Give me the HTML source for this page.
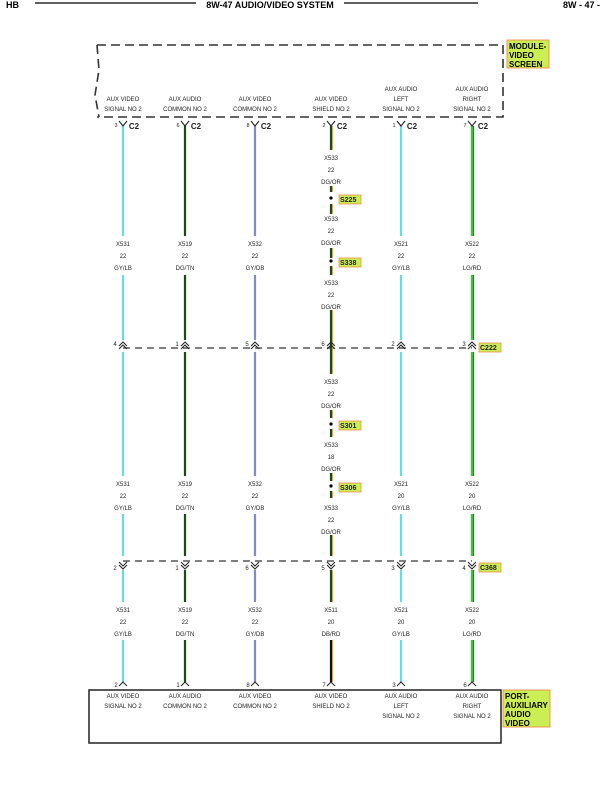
<!DOCTYPE html>
<html><head><meta charset="utf-8"><style>
html,body{margin:0;padding:0;background:#fff;width:605px;height:792px;overflow:hidden}
svg{display:block}
text{font-family:"Liberation Sans",sans-serif}
</style></head><body>
<svg id="s" width="605" height="792" viewBox="0 0 605 792" xmlns="http://www.w3.org/2000/svg">
<text x="6" y="8" font-size="9" font-weight="bold">HB</text>
<line x1="35" y1="3" x2="196" y2="3" stroke="#000" stroke-width="1.3"/>
<text x="270" y="8" font-size="9" font-weight="bold" text-anchor="middle">8W-47 AUDIO/VIDEO SYSTEM</text>
<line x1="344" y1="3" x2="478" y2="3" stroke="#000" stroke-width="1.3"/>
<text x="563" y="8" font-size="9" font-weight="bold">8W - 47 -</text>
<path d="M97,45 L503,45 L503,117 L97,117 M97,45 L99,70 L95,95 L99,117" fill="none" stroke="#333" stroke-width="1.6" stroke-dasharray="9,5"/>
<rect x="507" y="40" width="42" height="28" fill="#ccee55" stroke="#f08040" stroke-width="0.8"/>
<text x="509" y="49" font-size="8" font-weight="bold">MODULE-</text>
<text x="509" y="58" font-size="8" font-weight="bold">VIDEO</text>
<text x="509" y="67" font-size="8" font-weight="bold">SCREEN</text>
<line x1="123" y1="348" x2="472" y2="348" stroke="#333" stroke-width="1.2" stroke-dasharray="7,5"/>
<line x1="123" y1="561" x2="472" y2="561" stroke="#333" stroke-width="1.2" stroke-dasharray="7,5"/>
<rect x="89" y="690" width="412" height="53" fill="none" stroke="#222" stroke-width="1.5"/>
<rect x="503" y="690" width="47" height="37" fill="#ccee55" stroke="#f08040" stroke-width="0.8"/>
<text x="505" y="699" font-size="8" font-weight="bold">PORT-</text>
<text x="505" y="708" font-size="8" font-weight="bold">AUXILIARY</text>
<text x="505" y="717" font-size="8" font-weight="bold">AUDIO</text>
<text x="505" y="726" font-size="8" font-weight="bold">VIDEO</text>
<g id="g"></g>
</svg>
<script>
(function(){
var g=document.getElementById('g'),h='';
function t(x,y,s,o){h+='<text x="'+x+'" y="'+y+'" font-size="'+((o&&o.fs)||6)+'" text-anchor="'+((o&&o.a)||'middle')+'"'+((o&&o.b)?' font-weight="bold"':'')+' fill="#222">'+s+'</text>';}
function L(x,y1,y2,c,w){h+='<line x1="'+x+'" y1="'+y1+'" x2="'+x+'" y2="'+y2+'" stroke="'+c+'" stroke-width="'+w+'"/>';}
function tag(x,y,s){h+='<rect x="'+x+'" y="'+(y-7)+'" width="'+(s.length*5+2)+'" height="9" fill="#ccee55" stroke="#f08040" stroke-width="0.7"/>';t(x+1,y,s,{fs:7,b:1,a:'start'});}
var X=[123,185,255,331,401,472];
var C=[['#66dde6',null],['#1d4a1d',null],['#8888c8',null],['#1d4a1d','#e8a020'],['#66dde6',null],['#33cc33','#2a5a2a']];
function wire(i,a,b,alt){var x=X[i],c=alt||C[i];L(x,a,b,c[0],2.2);if(c[1])L(x+1.6,a,b,c[1],1);}
[0,1,2,4,5].forEach(function(i){
 [[126,236],[275,340],[352,476],[514,556],[570,602],[640,682]].forEach(function(s){wire(i,s[0],s[1]);});
});
[[126,150],[186,192],[204,214],[248,258],[266,275],[310,374],[410,418],[429,437],[473,481],[491,498],[535,556],[570,602]].forEach(function(s){wire(3,s[0],s[1]);});
wire(3,640,682,['#111','#e8a020']);
[198,261,424,486].forEach(function(y){h+='<circle cx="331" cy="'+y+'" r="1.6" fill="#000"/>';});
tag(339,202,'S225');tag(339,265,'S338');tag(339,428,'S301');tag(339,490,'S306');
var c2p=[3,6,8,2,1,7];
X.forEach(function(x,i){h+='<path d="M'+(x-4)+',121 L'+x+',126 L'+(x+4)+',121" fill="none" stroke="#222" stroke-width="1.1"/>';t(x-7,127,c2p[i],{fs:5.5});t(x+11,129,'C2',{fs:8,b:1});});
var topL=[['AUX VIDEO','SIGNAL NO 2'],['AUX AUDIO','COMMON NO 2'],['AUX VIDEO','COMMON NO 2'],['AUX VIDEO','SHIELD NO 2'],['AUX AUDIO','LEFT','SIGNAL NO 2'],['AUX AUDIO','RIGHT','SIGNAL NO 2']];
topL.forEach(function(a,i){var y0=a.length==3?91:101;a.forEach(function(s,k){t(X[i],y0+k*10,s,{fs:6});});});
var p1=[4,1,5,6,2,3];
X.forEach(function(x,i){h+='<path d="M'+(x-4)+',346 L'+x+',342 L'+(x+4)+',346 M'+(x-4)+',349 L'+x+',345 L'+(x+4)+',349" fill="none" stroke="#222" stroke-width="1"/>';t(x-8,346,p1[i],{fs:6});});
tag(479,350,'C222');
var p2=[2,1,6,5,3,4];
X.forEach(function(x,i){h+='<path d="M'+(x-4)+',562 L'+x+',566 L'+(x+4)+',562 M'+(x-4)+',565 L'+x+',569 L'+(x+4)+',565" fill="none" stroke="#222" stroke-width="1"/>';t(x-8,570,p2[i],{fs:6});});
tag(479,570,'C368');
function lab(x,y,a){a.forEach(function(s,k){t(x,y+k*12,s,{fs:6});});}
var w1=[['X531','22','GY/LB'],['X519','22','DG/TN'],['X532','22','GY/DB'],null,['X521','22','GY/LB'],['X522','22','LG/RD']];
var w2=[['X531','22','GY/LB'],['X519','22','DG/TN'],['X532','22','GY/DB'],null,['X521','20','GY/LB'],['X522','20','LG/RD']];
var w3=[['X531','22','GY/LB'],['X519','22','DG/TN'],['X532','22','GY/DB'],['X511','20','DB/RD'],['X521','20','GY/LB'],['X522','20','LG/RD']];
X.forEach(function(x,i){if(w1[i])lab(x,246,w1[i]);if(w2[i])lab(x,486,w2[i]);lab(x,612,w3[i]);});
lab(331,160,['X533','22','DG/OR']);lab(331,221,['X533','22','DG/OR']);lab(331,285,['X533','22','DG/OR']);
lab(331,384,['X533','22','DG/OR']);lab(331,447,['X533','18','DG/OR']);lab(331,510,['X533','22','DG/OR']);
var p3=[2,1,8,7,3,6];
X.forEach(function(x,i){h+='<path d="M'+(x-4)+',686 L'+x+',682 L'+(x+4)+',686" fill="none" stroke="#222" stroke-width="1"/>';t(x-7,687,p3[i],{fs:6});});
var bot=[['AUX VIDEO','SIGNAL NO 2'],['AUX AUDIO','COMMON NO 2'],['AUX VIDEO','COMMON NO 2'],['AUX VIDEO','SHIELD NO 2'],['AUX AUDIO','LEFT','SIGNAL NO 2'],['AUX AUDIO','RIGHT','SIGNAL NO 2']];
bot.forEach(function(a,i){a.forEach(function(s,k){t(X[i],698+k*10,s,{fs:6});});});
g.innerHTML=h;
})();
</script>
</body></html>
